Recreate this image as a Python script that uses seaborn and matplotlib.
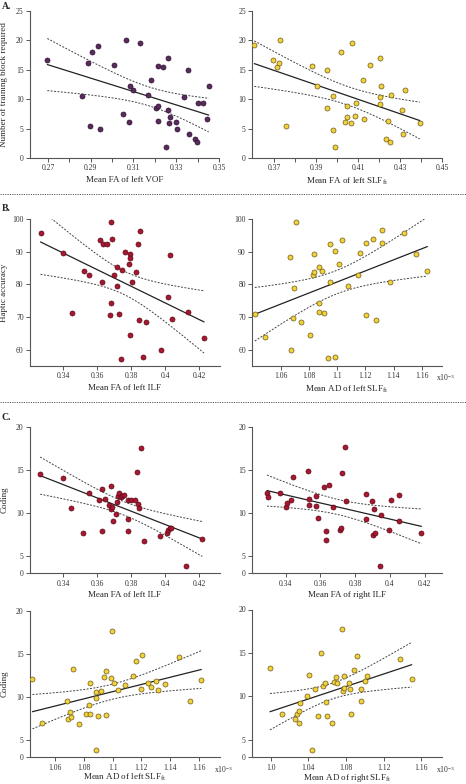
import numpy as np
import pandas as pd
import matplotlib
matplotlib.use('Agg')
import matplotlib.pyplot as plt
from matplotlib.lines import Line2D
import seaborn as sns

# ---------- data ----------
# A. training blocks vs FA
fa_left_vof = [0.2697, 0.2858, 0.2889, 0.2905, 0.2936, 0.2898, 0.2942, 0.3009, 0.3050, 0.3064,
               0.3080, 0.3083, 0.3100, 0.3130, 0.3170, 0.3184, 0.3205, 0.3213, 0.3214, 0.3214,
               0.3236, 0.3261, 0.3263, 0.3270, 0.3267, 0.3252, 0.3297, 0.3302, 0.3334, 0.3356,
               0.3362, 0.3386, 0.3395, 0.3400, 0.3425, 0.3444, 0.3452]
blocks_vof = [16.6, 10.6, 16.1, 18.0, 19.1, 5.4, 4.9, 15.9, 7.4, 20.1,
              6.1, 12.2, 11.6, 19.5, 10.7, 13.2, 8.5, 15.6, 8.9, 6.3,
              15.4, 17.0, 8.1, 7.0, 5.9, 1.9, 6.1, 4.9, 10.4, 14.9,
              4.0, 3.2, 2.8, 9.3, 9.4, 6.7, 12.2]

fa_left_slf = [0.3606, 0.3694, 0.3714, 0.3724, 0.3729, 0.3759, 0.3879, 0.3906, 0.3954, 0.3951,
               0.3979, 0.3979, 0.3990, 0.4021, 0.4038, 0.4048, 0.4049, 0.4067, 0.4073, 0.4086,
               0.4089, 0.4125, 0.4127, 0.4157, 0.4203, 0.4205, 0.4205, 0.4211, 0.4233, 0.4243,
               0.4252, 0.4256, 0.4311, 0.4316, 0.4322, 0.4394]
blocks_slf = [19.2, 16.6, 15.4, 16.2, 20.1, 5.4, 15.6, 12.2, 14.9, 8.5,
              10.5, 4.8, 1.8, 18.0, 6.1, 7.0, 8.9, 5.9, 19.5, 7.2,
              9.3, 13.2, 6.7, 15.9, 9.2, 10.3, 17.0, 12.3, 3.2, 6.3,
              2.8, 10.7, 8.1, 4.0, 11.5, 6.0]

# B. haptic accuracy
fa_left_ilf_b = [0.3266, 0.3400, 0.3449, 0.3524, 0.3553, 0.3618, 0.3632, 0.3656, 0.3630, 0.3687,
                 0.3683, 0.3677, 0.3699, 0.3715, 0.3718, 0.3730, 0.3744, 0.3742, 0.3764, 0.3791,
                 0.3791, 0.3787, 0.3793, 0.3805, 0.3830, 0.3840, 0.3852, 0.3846, 0.3888, 0.3870,
                 0.3976, 0.4017, 0.4029, 0.4041, 0.4135, 0.4230, 0.3681]
haptic_ilf = [95.6, 89.5, 71.2, 84.2, 82.8, 93.6, 92.3, 92.3, 80.8, 93.9,
              74.3, 70.5, 82.8, 85.3, 79.5, 71.0, 84.3, 57.0, 90.0, 89.3,
              88.0, 86.1, 64.4, 80.8, 83.9, 92.3, 96.4, 69.1, 68.5, 57.8,
              60.0, 76.2, 89.1, 69.5, 71.5, 63.7, 99.1]

ad_left_slf_b = [1.0416, 1.0489, 1.0669, 1.0673, 1.0690, 1.0697, 1.0747, 1.0810, 1.0829, 1.0836,
                 1.0836, 1.0870, 1.0874, 1.0874, 1.0891, 1.0907, 1.0938, 1.0952, 1.0950, 1.0988,
                 1.0985, 1.1011, 1.1033, 1.1080, 1.1151, 1.1165, 1.1203, 1.1208, 1.1257, 1.1276,
                 1.1319, 1.1321, 1.1378, 1.1477, 1.1560, 1.1640, 1.0711]
haptic_slf = [70.9, 64.0, 88.3, 59.8, 69.8, 79.0, 68.6, 64.6, 82.9, 89.2,
              83.9, 85.2, 74.3, 71.5, 84.2, 71.1, 57.3, 92.5, 80.6, 57.8,
              90.1, 86.2, 93.7, 79.6, 83.0, 89.6, 70.7, 92.6, 93.8, 69.2,
              92.6, 96.5, 80.6, 95.6, 89.2, 84.2, 99.2]

# C. coding
fa_left_ilf_c = [0.3264, 0.3396, 0.3443, 0.3518, 0.3550, 0.3610, 0.3626, 0.3628, 0.3646, 0.3667,
                 0.3679, 0.3679, 0.3687, 0.3693, 0.3712, 0.3715, 0.3724, 0.3730, 0.3738, 0.3746,
                 0.3760, 0.3779, 0.3783, 0.3783, 0.3799, 0.3821, 0.3834, 0.3840, 0.3848, 0.3860,
                 0.3877, 0.3970, 0.4009, 0.4019, 0.4029, 0.4037, 0.4121, 0.4220]
coding_left_ilf = [14.5, 14.1, 10.6, 7.7, 12.3, 11.5, 12.8, 7.9, 11.6, 10.9,
                   13.1, 10.5, 10.7, 9.1, 9.9, 11.3, 12.0, 12.3, 11.8, 12.0,
                   12.1, 11.5, 9.3, 7.9, 11.5, 11.5, 14.8, 11.0, 10.6, 17.5,
                   6.8, 7.3, 7.7, 8.0, 8.2, 8.3, 2.1, 7.0]

fa_right_ilf = [0.3293, 0.3299, 0.3368, 0.3400, 0.3410, 0.3434, 0.3444, 0.3530, 0.3533, 0.3535,
                0.3572, 0.3577, 0.3589, 0.3621, 0.3630, 0.3630, 0.3651, 0.3674, 0.3714, 0.3720,
                0.3724, 0.3741, 0.3750, 0.3861, 0.3863, 0.3897, 0.3909, 0.3901, 0.3916, 0.3949,
                0.3945, 0.3996, 0.4006, 0.4050, 0.4050, 0.4181]
coding_right_ilf = [12.3, 11.8, 12.3, 10.7, 11.2, 11.5, 14.2, 14.9, 11.6, 10.9,
                    10.8, 12.0, 9.4, 13.0, 7.9, 6.9, 13.2, 10.7, 8.0, 8.3,
                    14.6, 17.6, 11.4, 12.2, 9.3, 11.4, 10.5, 7.4, 7.7, 9.8,
                    2.2, 8.0, 11.5, 9.1, 12.1, 7.7]

ad_left_slf_c = [1.0443, 1.0512, 1.0681, 1.0690, 1.0706, 1.0713, 1.0727, 1.0764, 1.0815, 1.0836,
                 1.0845, 1.0845, 1.0882, 1.0885, 1.0887, 1.0898, 1.0917, 1.0943, 1.0956, 1.0956,
                 1.0987, 1.0994, 1.1012, 1.1040, 1.1084, 1.1144, 1.1165, 1.1200, 1.1206, 1.1244,
                 1.1267, 1.1304, 1.1315, 1.1362, 1.1459, 1.1540, 1.1616]
coding_left_slf = [12.1, 7.0, 9.5, 7.4, 8.2, 7.7, 13.2, 6.9, 8.0, 9.1,
                   11.6, 8.0, 10.6, 9.9, 2.1, 7.8, 10.7, 12.3, 13.0, 7.9,
                   12.2, 17.7, 11.6, 10.8, 11.4, 12.4, 14.2, 10.9, 14.9, 11.6,
                   11.1, 11.8, 10.8, 11.5, 14.6, 9.5, 12.0]

ad_right_slf = [0.9993, 1.0124, 1.0254, 1.0276, 1.0297, 1.0304, 1.0314, 1.0385, 1.0410, 1.0438,
                1.0466, 1.0505, 1.0533, 1.0555, 1.0576, 1.0586, 1.0593, 1.0650, 1.0675, 1.0692,
                1.0699, 1.0752, 1.0766, 1.0777, 1.0781, 1.0830, 1.0837, 1.0855, 1.0880, 1.0918,
                1.0954, 1.0961, 1.1003, 1.1024, 1.1370, 1.1497]
coding_right_slf = [13.3, 8.0, 7.4, 8.0, 8.3, 6.9, 9.2, 10.0, 12.5, 2.1,
                    10.9, 7.8, 15.0, 11.2, 11.5, 9.4, 7.8, 7.0, 11.7, 12.2,
                    11.5, 17.8, 10.6, 11.0, 12.3, 11.6, 10.8, 8.0, 13.0, 14.7,
                    10.9, 9.5, 11.8, 12.3, 14.3, 12.0]

PURPLE = '#5b2b5d'
RED = '#a8172f'
YELLOW = '#f2d23c'

# ---------- style ----------
sns.set_style('ticks')
plt.rcParams['font.family'] = ['Liberation Serif', 'DejaVu Serif']
plt.rcParams['mathtext.fontset'] = 'custom'
plt.rcParams['mathtext.rm'] = 'Liberation Serif'
plt.rcParams['mathtext.it'] = 'Liberation Serif:italic'
plt.rcParams['axes.edgecolor'] = '#555555'
plt.rcParams['axes.linewidth'] = 0.8
plt.rcParams['xtick.color'] = '#555555'
plt.rcParams['ytick.color'] = '#555555'
plt.rcParams['xtick.labelcolor'] = '#333333'
plt.rcParams['ytick.labelcolor'] = '#333333'

W, H = 466, 784
fig = plt.figure(figsize=(W / 100, H / 100), dpi=100)


def rect(l, r, t, b):
    return [l / W, 1 - b / H, (r - l) / W, (b - t) / H]


# y axis of the coding panels: 0-5 segment is compressed
def fwd(y):
    y = np.asarray(y, dtype=float)
    return np.where(y < 5, y * 0.4, 2 + (y - 5))


def inv(v):
    v = np.asarray(v, dtype=float)
    return np.where(v < 2, v / 0.4, v - 2 + 5)


def panel(ax, x, y, color, edge, xlim, ylim, xticks, xlabel, ylabel=None, yticks=None,
          xminor=None, broken=False, sci=False, xlab_y=-0.12):
    x = np.asarray(x)
    y = np.asarray(y)
    if broken:
        ax.set_yscale('function', functions=(fwd, inv))
    sns.regplot(x=x, y=y, ax=ax, ci=None, truncate=True,
                scatter_kws=dict(s=13, color=color, edgecolor=edge, linewidths=0.5, alpha=1, zorder=3),
                line_kws=dict(color='#222222', lw=0.9, zorder=2))
    # 95% confidence band of the fit, drawn as dotted lines
    n = len(x)
    b1, b0 = np.polyfit(x, y, 1)
    resid = y - (b0 + b1 * x)
    s = np.sqrt(np.sum(resid ** 2) / (n - 2))
    xs = np.linspace(x.min(), x.max(), 100)
    se = s * np.sqrt(1 / n + (xs - x.mean()) ** 2 / np.sum((x - x.mean()) ** 2))
    fit = b0 + b1 * xs
    for band in (fit + 2.03 * se, fit - 2.03 * se):
        ax.plot(xs, band, color='#444444', lw=0.7, ls=(0, (2, 1.5)), zorder=2)
    ax.set_xlim(*xlim)
    ax.set_ylim(*ylim)
    ax.set_xticks(xticks)
    ax.set_xticklabels([f'{t:g}' if len(f'{t:g}') > 3 or t < 1 else f'{t:.1f}' for t in xticks])
    if xminor is not None:
        ax.set_xticks(xminor, minor=True)
    if yticks is not None:
        ax.set_yticks(yticks)
        ax.set_yticklabels([str(t) for t in yticks])
        ax.yaxis.set_minor_locator(matplotlib.ticker.NullLocator())
    ax.tick_params(axis='both', which='major', length=3, width=0.7, pad=1.5, labelsize=5.5)
    ax.tick_params(axis='x', which='minor', length=3, width=0.7)
    ax.set_xlabel(xlabel, fontsize=6.5)
    ax.xaxis.set_label_coords(0.5, xlab_y)
    if ylabel:
        ax.set_ylabel(ylabel, fontsize=6.5)
        ax.yaxis.set_label_coords(-0.115, 0.5)
    else:
        ax.set_ylabel('')
    sns.despine(ax=ax)
    if sci:
        ax.annotate('x10$^{-3}$', xy=(1, 0), xycoords='axes fraction', xytext=(-4, -4.5),
                    textcoords='offset points', ha='left', va='top', fontsize=5.5, color='#333333')


slf_ft = r'SLF$_{\mathrm{ft}}$'

ax = fig.add_axes(rect(30, 219, 11, 158))
panel(ax, fa_left_vof, blocks_vof, PURPLE, '#2a1030', (0.2616, 0.35), (0, 25),
      [0.27, 0.29, 0.31, 0.33, 0.35], 'Mean FA of left VOF',
      'Number of training block required', [0, 5, 10, 15, 20, 25],
      xminor=[0.28, 0.30, 0.32, 0.34])

ax = fig.add_axes(rect(252, 442, 11, 158))
panel(ax, fa_left_slf, blocks_slf, YELLOW, '#6b5a18', (0.3595, 0.45), (0, 25),
      [0.37, 0.39, 0.41, 0.43, 0.45], 'Mean FA of left ' + slf_ft,
      None, [0, 5, 10, 15, 20, 25], xminor=[0.38, 0.40, 0.42, 0.44])

ax = fig.add_axes(rect(30, 220, 219, 366))
panel(ax, fa_left_ilf_b, haptic_ilf, RED, '#5a0a18', (0.3204, 0.4324), (55, 100),
      [0.34, 0.36, 0.38, 0.40, 0.42], 'Mean FA of left ILF',
      'Haptic accuracy', [60, 70, 80, 90, 100])

ax = fig.add_axes(rect(252, 442, 219, 366))
panel(ax, ad_left_slf_b, haptic_slf, YELLOW, '#6b5a18', (1.0396, 1.1744), (55, 100),
      [1.06, 1.08, 1.10, 1.12, 1.14, 1.16], 'Mean AD of left ' + slf_ft,
      None, [60, 70, 80, 90, 100], sci=True)

ax = fig.add_axes(rect(30, 220, 426.7, 573.3))
panel(ax, fa_left_ilf_c, coding_left_ilf, RED, '#5a0a18', (0.3204, 0.4324), (0, 20),
      [0.34, 0.36, 0.38, 0.40, 0.42], 'Mean FA of left ILF',
      'Coding', [0, 5, 10, 15, 20], broken=True)

ax = fig.add_axes(rect(252, 442, 426.7, 573.3))
panel(ax, fa_right_ilf, coding_right_ilf, RED, '#5a0a18', (0.3207, 0.4299), (0, 20),
      [0.34, 0.36, 0.38, 0.40, 0.42], 'Mean FA of right ILF',
      None, [0, 5, 10, 15, 20], broken=True)

ax = fig.add_axes(rect(30, 220, 610.7, 757.3))
panel(ax, ad_left_slf_c, coding_left_slf, YELLOW, '#6b5a18', (1.0426, 1.1746), (0, 20),
      [1.06, 1.08, 1.10, 1.12, 1.14, 1.16], 'Mean AD of left ' + slf_ft,
      'Coding', [0, 5, 10, 15, 20], broken=True, sci=True, xlab_y=-0.1)

ax = fig.add_axes(rect(252, 442, 609.5, 757.3))
panel(ax, ad_right_slf, coding_right_slf, YELLOW, '#6b5a18', (0.9802, 1.1818), (0, 20),
      [1.00, 1.04, 1.08, 1.12, 1.16], 'Mean AD of right ' + slf_ft,
      None, [0, 5, 10, 15, 20], broken=True, sci=True, xlab_y=-0.1)

# panel letters and dotted separators
for label, ypx in [('A.', 2), ('B.', 204), ('C.', 413)]:
    fig.text(2 / W, 1 - ypx / H, label, fontsize=7, fontweight='bold', va='top', ha='left')
for ypx in [193.5, 401.5]:
    fig.add_artist(Line2D([0, 1], [1 - ypx / H] * 2, transform=fig.transFigure,
                          color='#555555', lw=0.7, ls=(0, (1.2, 1.2))))

fig.savefig('out.png', dpi=100)
